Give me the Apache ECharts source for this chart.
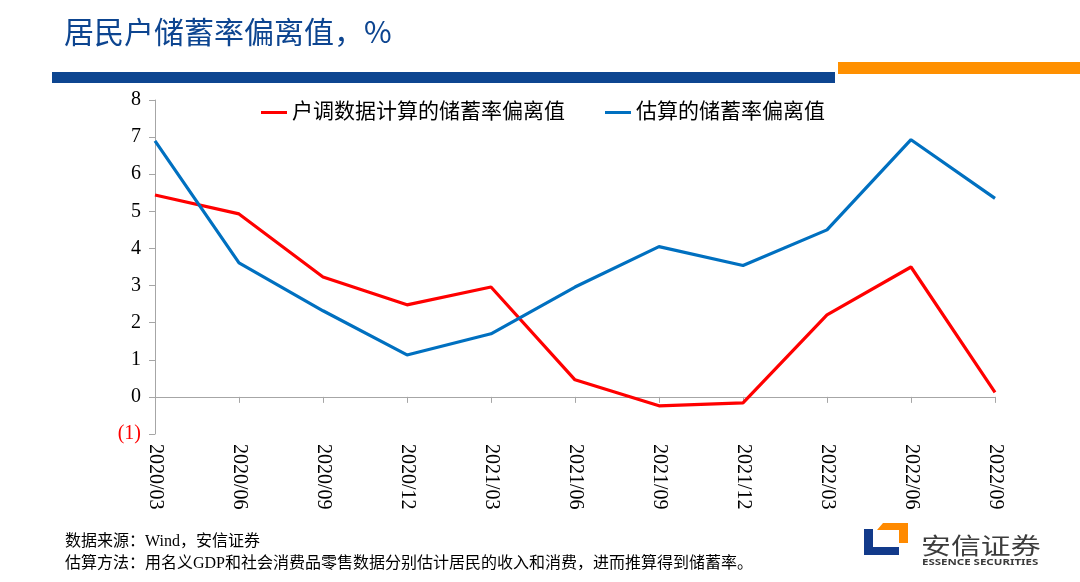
<!DOCTYPE html>
<html>
<head>
<meta charset="utf-8">
<script src="https://cdn.jsdelivr.net/npm/echarts@6/dist/echarts.min.js"></script>
<style>
html,body{margin:0;padding:0;background:#fff;}
#main{width:1080px;height:582px;}
</style>
</head>
<body>
<div id="main"></div>
<script>
var categories = ['2020/03','2020/06','2020/09','2020/12','2021/03','2021/06','2021/09','2021/12','2022/03','2022/06','2022/09'];
var surveySeries = [5.44, 4.93, 3.23, 2.48, 2.96, 0.46, -0.24, -0.16, 2.21, 3.50, 0.12];
var estimateSeries = [6.90, 3.61, 2.32, 1.13, 1.70, 2.96, 4.05, 3.54, 4.50, 6.93, 5.35];
var seriesNames = ['户调数据计算的储蓄率偏离值', '估算的储蓄率偏离值'];
var titleText = '居民户储蓄率偏离值，%';
var sourceText = '数据来源：Wind，安信证券';
var methodText = '估算方法：用名义GDP和社会消费品零售数据分别估计居民的收入和消费，进而推算得到储蓄率。';

var chart = echarts.init(document.getElementById('main'));
var serif = '"Liberation Serif","Times New Roman",serif';
var cjk = '"Liberation Serif","Noto Sans CJK SC",serif';

chart.setOption({
  animation: false,
  backgroundColor: '#fff',
  grid: {left: 155, right: 85, top: 100, bottom: 148, containLabel: false},
  legend: {
    top: 97, left: 256,
    itemWidth: 26, itemHeight: 3, itemGap: 40,
    icon: 'rect',
    textStyle: {fontFamily: cjk, fontSize: 21, color: '#000'},
    data: seriesNames
  },
  xAxis: [{
    type: 'category', data: categories, boundaryGap: false,
    position: 'bottom',
    axisLine: {show: false, onZero: false},
    axisTick: {show: false},
    axisLabel: {rotate: -90, margin: 10, fontFamily: serif, fontSize: 20, color: '#000'},
    splitLine: {show: false}
  }, {
    type: 'category', data: categories, boundaryGap: false,
    position: 'bottom',
    axisLine: {show: true, onZero: true, lineStyle: {color: '#A6A6A6', width: 1}},
    axisTick: {show: true, alignWithLabel: true, length: 6, lineStyle: {color: '#A6A6A6'}},
    axisLabel: {show: false},
    splitLine: {show: false}
  }],
  yAxis: {
    type: 'value', min: -1, max: 8, interval: 1,
    axisLine: {show: true, lineStyle: {color: '#A6A6A6', width: 1}},
    axisTick: {show: true, length: 6, lineStyle: {color: '#A6A6A6'}},
    splitLine: {show: false},
    axisLabel: {
      margin: 14, fontFamily: serif, fontSize: 20,
      formatter: function (v) { return v < 0 ? '(' + (-v) + ')' : String(v); },
      color: function (v) { return Number(v) < 0 ? '#FF0000' : '#000'; }
    }
  },
  series: [{
    name: seriesNames[0], type: 'line', xAxisIndex: 0, data: surveySeries,
    showSymbol: false, symbol: 'none',
    lineStyle: {color: '#FF0000', width: 3.2}, itemStyle: {color: '#FF0000'}
  }, {
    name: seriesNames[1], type: 'line', xAxisIndex: 0, data: estimateSeries,
    showSymbol: false, symbol: 'none',
    lineStyle: {color: '#0070C0', width: 3.2}, itemStyle: {color: '#0070C0'}
  }],
  graphic: [
    {type: 'text', left: 64, top: 17, style: {text: titleText, fontFamily: '"Noto Sans CJK SC",sans-serif', fontSize: 30, fill: '#0D4590'}},
    {type: 'rect', shape: {x: 52, y: 72, width: 783, height: 11}, style: {fill: '#0D4590'}},
    {type: 'rect', shape: {x: 838, y: 62, width: 242, height: 12}, style: {fill: '#FF9000'}},
    {type: 'text', left: 65, top: 534, style: {text: sourceText, fontFamily: cjk, fontSize: 16, fill: '#000'}},
    {type: 'text', left: 65, top: 556, style: {text: methodText, fontFamily: cjk, fontSize: 16, fill: '#000'}},
    {type: 'polygon', shape: {points: [[877,530],[883,523],[908,523],[908,543],[899,543],[899,530]]}, style: {fill: '#FF8A00'}},
    {type: 'polygon', shape: {points: [[864,529],[873,529],[873,547],[899,547],[899,555],[864,555]]}, style: {fill: '#123A8A'}},
    {type: 'text', x: 921, y: 534, scaleX: 1.3, style: {text: '安信证券', fontFamily: '"Noto Sans CJK SC",sans-serif', fontSize: 23, fill: '#3C3C3C'}},
    {type: 'text', x: 922, y: 558, scaleX: 1.35, style: {text: 'ESSENCE SECURITIES', fontFamily: '"Noto Sans",sans-serif', fontSize: 8.5, fontWeight: 'bold', fill: '#3C3C3C'}}
  ]
});
</script>
</body>
</html>
